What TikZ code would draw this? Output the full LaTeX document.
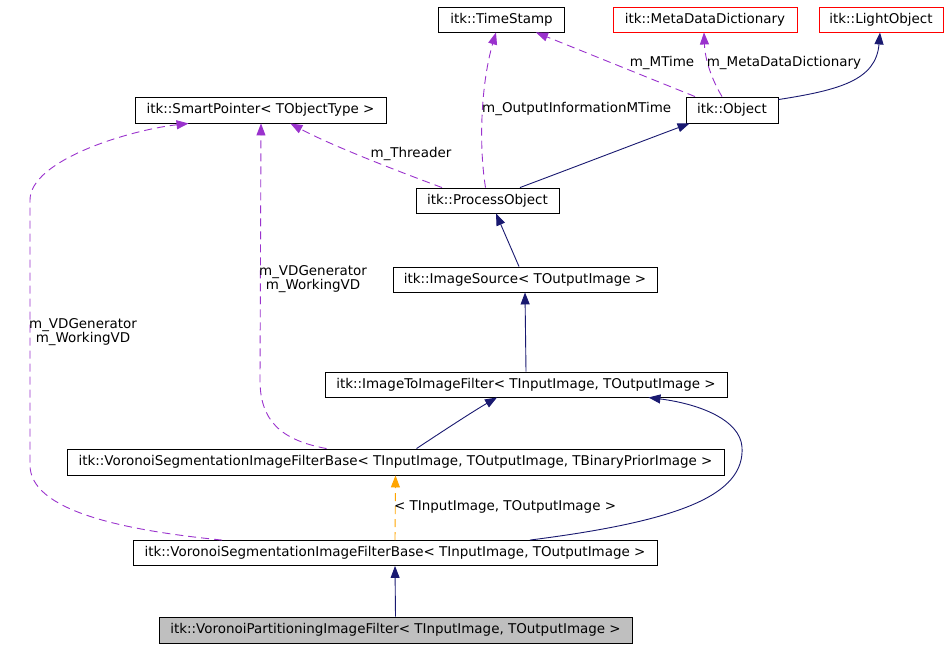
\documentclass[tikz,border=0pt]{standalone}
\usepackage{fontspec}
\setmainfont{DejaVu Sans}
\usetikzlibrary{arrows.meta}
\definecolor{inhblue}{HTML}{191970}
\definecolor{usepurple}{HTML}{9A32CD}
\definecolor{tmplorange}{HTML}{FFA500}

\begin{document}
\begin{tikzpicture}[x=1bp,y=-1bp,>={Triangle[length=12bp,width=9bp]},
  cls/.style={draw=black,line width=0.9bp,inner sep=0pt,minimum height=25bp,font=\fontsize{13.5}{15}\selectfont},
  ext/.style={cls,draw=red},
  self/.style={cls,fill=black!25},
  inh/.style={->,inhblue,line width=0.9bp},
  use/.style={->,usepurple,line width=0.9bp,dash pattern=on 8bp off 5bp},
  tmpl/.style={->,tmplorange,line width=0.9bp,dash pattern=on 8bp off 5bp},
  lbl/.style={inner sep=0pt,align=center,font=\fontsize{13.5}{14.5}\selectfont}]
  \useasboundingbox (0,0) rectangle (949,648);
  % top row
  \node[cls,minimum width=126bp] (ts) at (501.5,19.5) {itk::TimeStamp};
  \node[ext,minimum width=184bp] (mdd) at (705,19.5) {itk::MetaDataDictionary};
  \node[ext,minimum width=124bp] (lo) at (881,19.5) {itk::LightObject};
  % second row
  \node[cls,minimum width=251bp,minimum height=26bp] (sp) at (260.5,110) {itk::SmartPointer< TObjectType >};
  \node[cls,minimum width=92bp,minimum height=26bp] (obj) at (732,110) {itk::Object};
  % the chain down to the class itself
  \node[cls,minimum width=143bp] (po) at (487.5,200.5) {itk::ProcessObject};
  \node[cls,minimum width=264bp] (is) at (525,279.5) {itk::ImageSource< TOutputImage >};
  \node[cls,minimum width=402bp] (i2i) at (526,384.5) {itk::ImageToImageFilter< TInputImage, TOutputImage >};
  \node[cls,minimum width=657bp,minimum height=26bp] (vsb3) at (395.5,462) {itk::VoronoiSegmentationImageFilterBase< TInputImage, TOutputImage, TBinaryPriorImage >};
  \node[cls,minimum width=524bp] (vsb2) at (395,553) {itk::VoronoiSegmentationImageFilterBase< TInputImage, TOutputImage >};
  \node[self,minimum width=473bp,minimum height=26bp] (vpf) at (395.5,630) {itk::VoronoiPartitioningImageFilter< TInputImage, TOutputImage >};

  % inheritance
  \draw[inh] ([yshift=-3bp]obj.north east) .. controls (840,90) and (876,80) .. ([xshift=-1bp]lo.south);
  \draw[inh] ([xshift=32.5bp]po.north) .. controls (580,165) and (640,142) .. ([xshift=4bp]obj.south west);
  \draw[inh] ([xshift=-6bp]is.north) -- ([xshift=8.5bp]po.south);
  \draw[inh] (i2i.north) -- (is.south);
  \draw[inh] ([xshift=21bp]vsb3.north) .. controls (440,433) and (472,412) .. ([xshift=-29bp]i2i.south);
  \draw[inh] ([xshift=135bp]vsb2.north) .. controls (680,521) and (745,495) .. (742,447)
    .. controls (740,420) and (700,404) .. ([xshift=-79bp]i2i.south east);
  \draw[inh] (vpf.north) -- (vsb2.south);
  \draw[tmpl] (vsb2.north) -- (vsb3.south);
  \node[lbl,anchor=west] (ltmpl) at (394,507) {< TInputImage, TOutputImage >};

  % members
  \draw[use] ([xshift=-10bp]obj.north) .. controls (712,80) and (705,60) .. ([xshift=-1bp]mdd.south);
  \node[lbl] (lmdd) at (784,63) {m\_MetaDataDictionary};
  \draw[use] ([xshift=-37bp]obj.north) -- ([xshift=-29bp]ts.south east);
  \node[lbl] (lmtime) at (662,63) {m\_MTime};
  \draw[use] ([xshift=-2bp]po.north) .. controls (478,140) and (482,80) .. ([xshift=-5.5bp]ts.south);
  \node[lbl,anchor=west] (loimt) at (482,109) {m\_OutputInformationMTime};
  \draw[use] ([xshift=-45.5bp]po.north) .. controls (400,172) and (330,145) .. ([xshift=-96bp]sp.south east);
  \node[lbl] (lthr) at (411,154) {m\_Threader};
  \draw[use] ([xshift=-69bp]vsb3.north) .. controls (280,440) and (260,420) .. (260,380) -- ([xshift=0.5bp]sp.south);
  \node[lbl] (lvd3) at (313,279) {m\_VDGenerator\\m\_WorkingVD};
  \draw[use] ([xshift=-173bp]vsb2.north) .. controls (120,530) and (30,510) .. (30,465) -- (30,200)
    .. controls (30,160) and (130,130) .. ([xshift=54bp]sp.south west);
  \node[lbl] (lvd2) at (83,332) {m\_VDGenerator\\m\_WorkingVD};
\end{tikzpicture}
\end{document}
